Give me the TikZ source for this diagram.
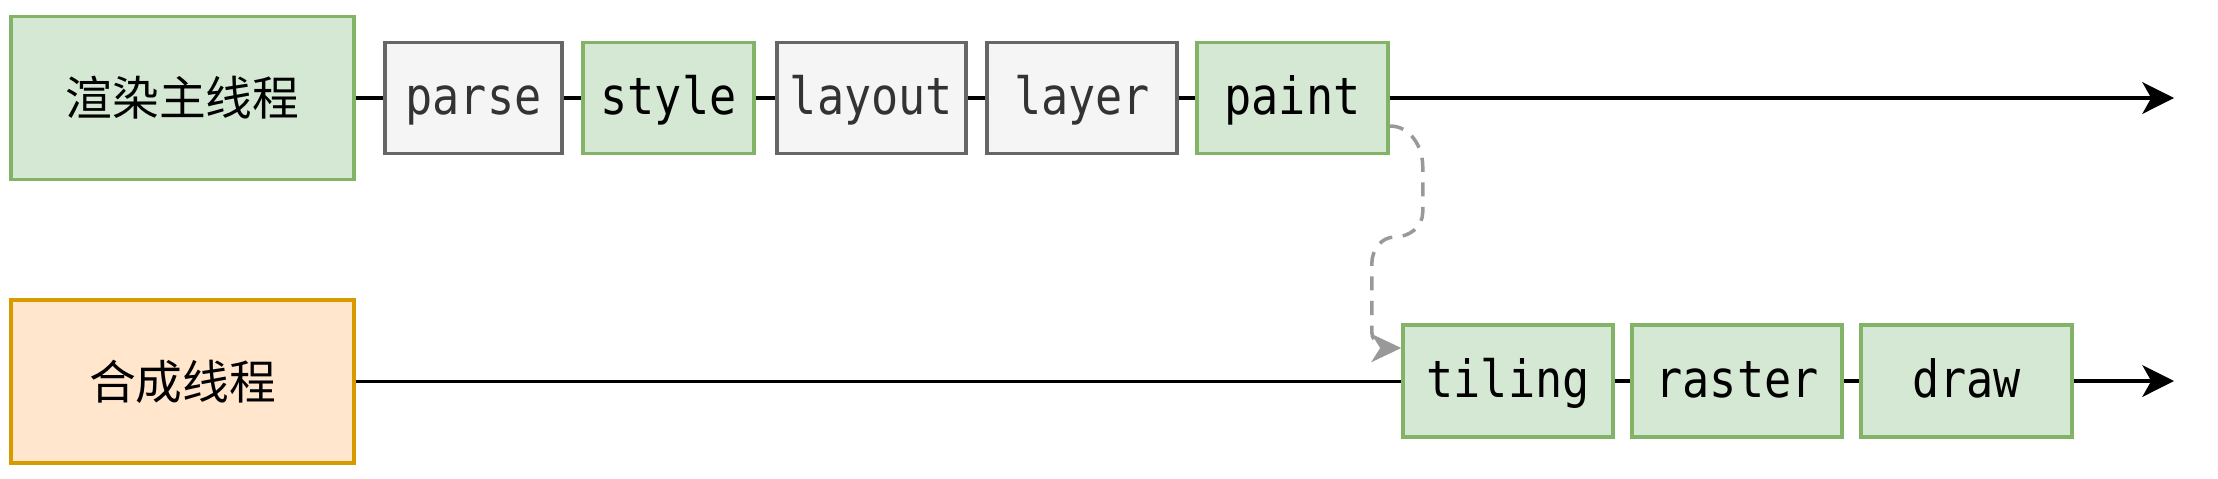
\documentclass[tikz,border=0pt]{standalone}
\usepackage{fontspec}
\setmonofont[FakeStretch=0.88]{DejaVu Sans Mono}
\newfontfamily\cjk{Noto Sans CJK SC}
\usetikzlibrary{arrows.meta}

\definecolor{greenfill}{HTML}{D5E8D4}
\definecolor{greenline}{HTML}{82B366}
\definecolor{grayfill}{HTML}{F5F5F5}
\definecolor{grayline}{HTML}{666666}
\definecolor{orangefill}{HTML}{FFE6CC}
\definecolor{orangeline}{HTML}{D79B00}
\definecolor{asyncline}{HTML}{999999}

\tikzset{
  threadbox/.style={draw, line width=1pt, inner sep=0pt,
    minimum width=3.43cm, minimum height=1.63cm,
    font=\cjk\fontsize{13.3}{16}\selectfont},
  stepbox/.style={draw, line width=1pt, inner sep=0pt, minimum height=1.11cm,
    text height=10pt, text depth=0.4pt,
    font=\ttfamily\fontsize{14.6}{17}\selectfont},
  greenstep/.style={stepbox, fill=greenfill, draw=greenline},
  graystep/.style={stepbox, fill=grayfill, draw=grayline, text=black!80},
  timeline/.style={line width=1.1pt},
  async/.style={line width=1pt, draw=asyncline, dashed,
    dash pattern=on 4pt off 3pt,
    -{Stealth[length=8.5pt, width=8pt, inset=2.5pt, fill=asyncline]}}
}

\begin{document}
\begin{tikzpicture}
  \useasboundingbox (0,0) rectangle (22.18,4.78);
  % main thread
  \node[threadbox, fill=greenfill, draw=greenline] (main) at (1.825,3.8) {渲染主线程};
  \node[graystep, minimum width=1.77cm] (parse) at (4.735,3.8) {parse};
  \node[greenstep, minimum width=1.71cm] (style) at (6.685,3.8) {style};
  \node[graystep, minimum width=1.89cm] (layout) at (8.715,3.8) {layout};
  \node[graystep, minimum width=1.90cm] (layer) at (10.82,3.8) {layer};
  \node[greenstep, minimum width=1.91cm] (paint) at (12.925,3.8) {paint};
  \coordinate (mainend) at (21.74,3.8);
  \draw[timeline] (main) -- (parse) (parse) -- (style) (style) -- (layout)
    (layout) -- (layer) (layer) -- (paint);
  \draw[timeline, -{Stealth[length=9pt, width=9pt, inset=2.5pt]}] (paint) -- (mainend);
  % compositor thread
  \node[threadbox, fill=orangefill, draw=orangeline] (comp) at (1.825,0.965) {合成线程};
  \node[greenstep, minimum width=2.10cm, minimum height=1.12cm] (tiling) at (15.08,0.97) {tiling};
  \node[greenstep, minimum width=2.10cm, minimum height=1.12cm] (raster) at (17.37,0.97) {raster};
  \node[greenstep, minimum width=2.11cm, minimum height=1.12cm] (draw) at (19.665,0.97) {draw};
  \coordinate (compend) at (21.74,0.97);
  \draw[timeline] (comp.east) -- (tiling.west |- comp.east) (tiling) -- (raster) (raster) -- (draw);
  \draw[timeline, -{Stealth[length=9pt, width=9pt, inset=2.5pt]}] (draw) -- (compend);
  % commit from paint to tiling
  \draw[async] ([yshift=-0.28cm]paint.east) to[out=0,in=90] ++(0.33,-0.41)
    -- ++(0,-0.45) to[out=-90,in=0] ++(-0.28,-0.25) to[out=180,in=90] ++(-0.23,-0.27)
    -- ++(0,-0.68) to[out=-90,in=180] ([yshift=0.33cm]tiling.west);
\end{tikzpicture}
\end{document}
